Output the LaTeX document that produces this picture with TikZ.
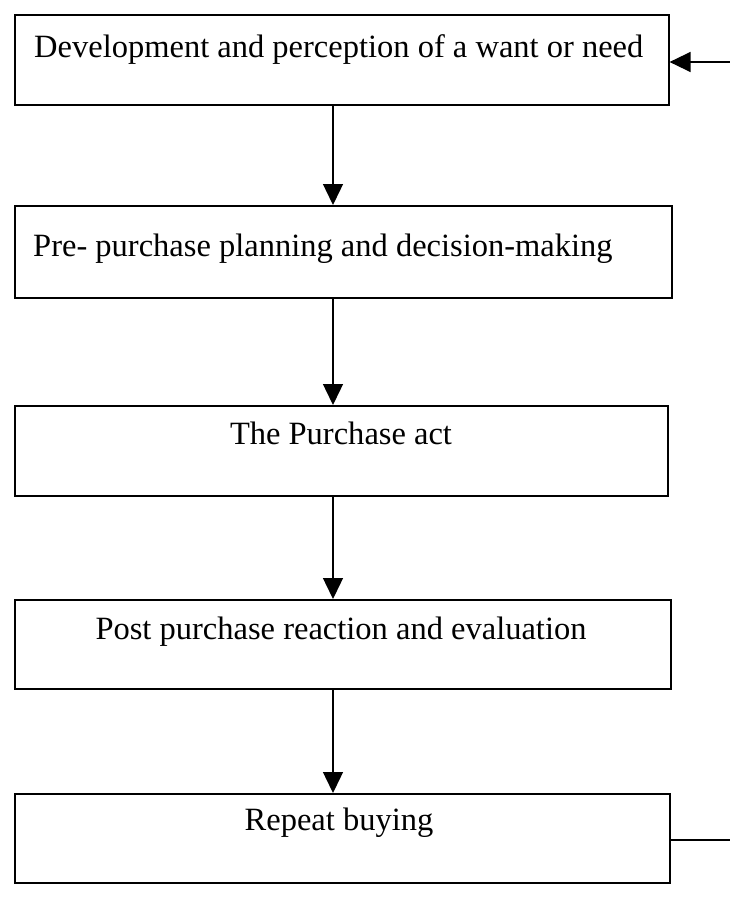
\documentclass[tikz,border=0pt]{standalone}
\usepackage{fontspec}
\setmainfont{Liberation Serif}
\usetikzlibrary{arrows.meta}
\begin{document}
\begin{tikzpicture}[x=1pt,y=-1pt,
  stage/.style={draw, line width=1.6pt, rectangle, inner sep=0pt, anchor=north west},
  caption/.style={font=\fontsize{32.5}{34}\selectfont, inner sep=0pt, anchor=base},
  flow/.style={line width=1.4pt, -{Triangle[length=21pt,width=20pt]}},
  back/.style={line width=1.4pt}
]
\useasboundingbox (0,0) rectangle (730,907);
% stage boxes
\node[stage, minimum width=654pt, minimum height=90pt] (b1) at (14,14) {};
\node[stage, minimum width=657pt, minimum height=92pt] (b2) at (14,205) {};
\node[stage, minimum width=653pt, minimum height=90pt] (b3) at (14,405) {};
\node[stage, minimum width=656pt, minimum height=89pt] (b4) at (14,599) {};
\node[stage, minimum width=655pt, minimum height=89pt] (b5) at (14,793) {};
% stage labels
\node[caption, anchor=base west] (t1) at (34,57) {Development and perception of a want or need};
\node[caption, anchor=base west] (t2) at (33,256) {Pre- purchase planning and decision-making};
\node[caption] (t3) at (341,444) {The Purchase act};
\node[caption] (t4) at (341,639) {Post purchase reaction and evaluation};
\node[caption] (t5) at (339,830) {Repeat buying};
% downward flow between stages
\draw[flow] (b1.south -| 333,0) -- (b2.north -| 333,0);
\draw[flow] (b2.south -| 333,0) -- (b3.north -| 333,0);
\draw[flow] (b3.south -| 333,0) -- (b4.north -| 333,0);
\draw[flow] (b4.south -| 333,0) -- (b5.north -| 333,0);
% feedback ends at the right edge
\coordinate (fbin) at (730,62);
\coordinate (fbout) at (730,840);
\draw[flow] (fbin) -- (b1.east |- fbin);
\draw[back] (b5.east |- fbout) -- (fbout);
\end{tikzpicture}
\end{document}
